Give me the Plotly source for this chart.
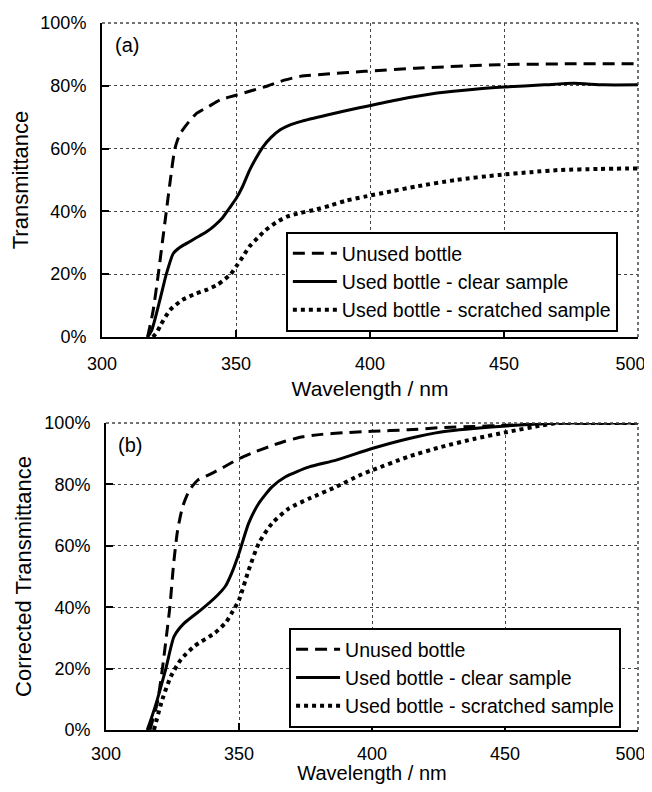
import plotly.graph_objects as go

# ---------------- data ----------------
tick_x = [300, 350, 400, 450, 500]
# trailing no-break spaces keep the last label inside the window
tick_x_text = ["300", "350", "400", "450", "500\u00a0\u00a0\u00a0"]
tick_y = [0, 20, 40, 60, 80, 100]
tick_y_text = ["0%", "20%", "40%", "60%", "80%", "100%"]

names = ["Unused bottle", "Used bottle - clear sample", "Used bottle - scratched sample"]

# panel (a)
unused_a_x = [317, 319, 321, 322.5, 324, 325.5, 327.2, 329, 331, 335, 340, 344, 350, 356, 362, 368, 374, 385, 398, 417, 448, 475, 500]
unused_a_y = [0, 8, 20, 30, 40, 50, 60, 64.5, 67, 71, 73.5, 75.5, 77, 78.5, 80, 81.8, 83, 83.8, 84.6, 85.6, 86.7, 87, 87]

clear_a_x = [317, 318.5, 321.6, 324, 326.6, 329, 331.6, 335, 339, 342, 345, 347.5, 350, 352.5, 355, 357.5, 360, 363, 366.5, 370, 374, 384, 396, 410, 425, 440, 450, 465, 476, 487, 500]
clear_a_y = [0, 2, 11.8, 20, 26.6, 28.5, 29.8, 31.5, 33.5, 35.5, 38, 41, 44, 48, 53, 57, 60.5, 63.5, 66, 67.5, 68.6, 70.7, 73, 75.5, 77.7, 79, 79.6, 80.3, 80.8, 80.3, 80.3]

scratched_a_x = [319, 320.5, 322, 325.4, 330, 335, 339, 343, 346, 348, 350, 352.5, 355, 358, 361, 365, 369, 374, 379, 385, 391, 398, 408, 417, 432, 448, 460, 471, 485, 500]
scratched_a_y = [0, 1.5, 4, 8.6, 11.8, 13.8, 15, 16.6, 18.5, 20, 22.4, 25.5, 28.8, 31.5, 34, 36.5, 38.3, 39.5, 40.4, 41.8, 43.4, 44.7, 46.4, 47.9, 50, 51.6, 52.5, 53.2, 53.5, 53.7]

# panel (b)
unused_b_x = [316.5, 319.3, 321.2, 322.7, 324, 325.4, 326.9, 328.8, 331.3, 334.5, 339.6, 345, 350, 355, 361, 367, 374, 381, 389, 400, 413.6, 426, 438.7, 451, 463.8, 470, 485, 500]
unused_b_y = [0, 9, 20, 30.5, 40, 54, 65, 72.7, 78, 81.4, 83.5, 86, 88.4, 90.3, 92.2, 94, 95.5, 96.3, 96.8, 97.3, 97.8, 98.5, 98.9, 99.3, 99.8, 100, 100, 100]

clear_b_x = [315.5, 317.5, 319.3, 322.5, 325.6, 329.4, 335.8, 342, 345, 347.2, 350, 353.6, 357.4, 362.4, 367.5, 376.4, 386.5, 400, 413.6, 426, 445, 463.8, 470, 500]
clear_b_y = [0, 5, 10, 20, 30.5, 34.8, 39.2, 44, 47, 51, 57.6, 67.3, 73.8, 79.2, 82.5, 85.7, 87.9, 91.7, 94.9, 97.1, 98.7, 99.8, 100, 100]

scratched_b_x = [318, 321.2, 324.4, 328.2, 333.2, 340.9, 345, 347.2, 350, 353.6, 357.4, 362.4, 368.8, 376.4, 386.5, 395.4, 400, 413.6, 426, 438.7, 451, 463.8, 470, 485, 500]
scratched_b_y = [0, 10, 17.5, 23, 27.3, 31.6, 35, 38, 42.4, 52, 60.8, 67.3, 72.2, 75.4, 79.2, 83, 84.6, 89, 92.2, 94.9, 97.1, 99.2, 100, 100, 100]

# ---------------- figure ----------------
FONT = "Liberation Sans, Arial, Helvetica, sans-serif"
styles = [dict(color="black", width=3, dash="12px,7px"),
          dict(color="black", width=3, dash="solid"),
          dict(color="black", width=4, dash="4px,4px")]

fig = go.Figure()
series_a = [(unused_a_x, unused_a_y), (clear_a_x, clear_a_y), (scratched_a_x, scratched_a_y)]
series_b = [(unused_b_x, unused_b_y), (clear_b_x, clear_b_y), (scratched_b_x, scratched_b_y)]

for i, (xs, ys) in enumerate(series_a):
    fig.add_trace(go.Scatter(x=xs, y=ys, name=names[i], mode="lines",
                             line=dict(shape="spline", smoothing=0.6, **styles[i]),
                             xaxis="x", yaxis="y", legend="legend",
                             legendgroup="a%d" % i))
for i, (xs, ys) in enumerate(series_b):
    fig.add_trace(go.Scatter(x=xs, y=ys, name=names[i], mode="lines",
                             line=dict(shape="spline", smoothing=0.6, **styles[i]),
                             xaxis="x2", yaxis="y2", legend="legend2",
                             legendgroup="b%d" % i))

axis_common = dict(showline=True, linecolor="black", linewidth=2, mirror=False,
                   ticks="inside", ticklen=7, tickwidth=2, tickcolor="black",
                   showgrid=True, gridcolor="#444", gridwidth=1, griddash="dot",
                   zeroline=False, ticklabeloverflow="allow",
                   tickfont=dict(family=FONT, size=18, color="black"))

xa = dict(axis_common, range=[300, 500], tickvals=tick_x, ticktext=tick_x_text,
          ticklabelstandoff=9, automargin=False)
ya_common = dict(axis_common, range=[0, 100], tickvals=tick_y, ticktext=tick_y_text,
                 ticklabelstandoff=10, automargin=False)

legend_common = dict(bgcolor="white", bordercolor="black", borderwidth=2,
                     font=dict(family=FONT, size=19.5, color="black"),
                     xanchor="left", yanchor="top", tracegroupgap=0,
                     itemwidth=44, traceorder="grouped")

# dotted frame lines on the top and right edges (grid lines at 100 % and 500 nm)
edge_shapes = []
for xr, yr in (("x domain", "y domain"), ("x2 domain", "y2 domain")):
    edge_shapes.append(dict(type="line", xref=xr, yref=yr, x0=0, x1=1, y0=1, y1=1,
                            line=dict(color="#444", width=1.5, dash="dot")))
    edge_shapes.append(dict(type="line", xref=xr, yref=yr, x0=1, x1=1, y0=0, y1=1,
                            line=dict(color="#444", width=1.5, dash="dot")))

# page body has an 8 px margin: size the figure so that nothing overflows the window
fig.update_layout(
    width=644, height=776,
    margin=dict(l=94, r=14, t=15, b=54),
    paper_bgcolor="white", plot_bgcolor="white",
    font=dict(family=FONT, color="black"),
    xaxis=dict(xa, domain=[0, 1], anchor="y",
               title=dict(text="Wavelength / nm", font=dict(family=FONT, size=21, color="black"), standoff=9)),
    yaxis=dict(ya_common, domain=[0.5559, 1], anchor="x",
               title=dict(text="Transmittance", font=dict(family=FONT, size=22, color="black"), standoff=7)),
    xaxis2=dict(xa, domain=[0.0075, 1], anchor="y2", ticklabelstandoff=6,
                title=dict(text="Wavelength / nm", font=dict(family=FONT, size=20, color="black"), standoff=8)),
    yaxis2=dict(ya_common, domain=[0, 0.4342], anchor="x2",
                title=dict(text="Corrected Transmittance", font=dict(family=FONT, size=22, color="black"), standoff=7)),
    legend=dict(legend_common, x=0.343, y=0.7044),
    legend2=dict(legend_common, x=0.349, y=0.1443),
    shapes=edge_shapes,
    annotations=[
        dict(text="(a)", xref="x domain", yref="y domain", x=0.02, y=0.97,
             xanchor="left", yanchor="top", showarrow=False,
             font=dict(family=FONT, size=20, color="black")),
        dict(text="(b)", xref="x2 domain", yref="y2 domain", x=0.019, y=0.972,
             xanchor="left", yanchor="top", showarrow=False,
             font=dict(family=FONT, size=20, color="black")),
    ],
)

fig.write_html("out.html")
